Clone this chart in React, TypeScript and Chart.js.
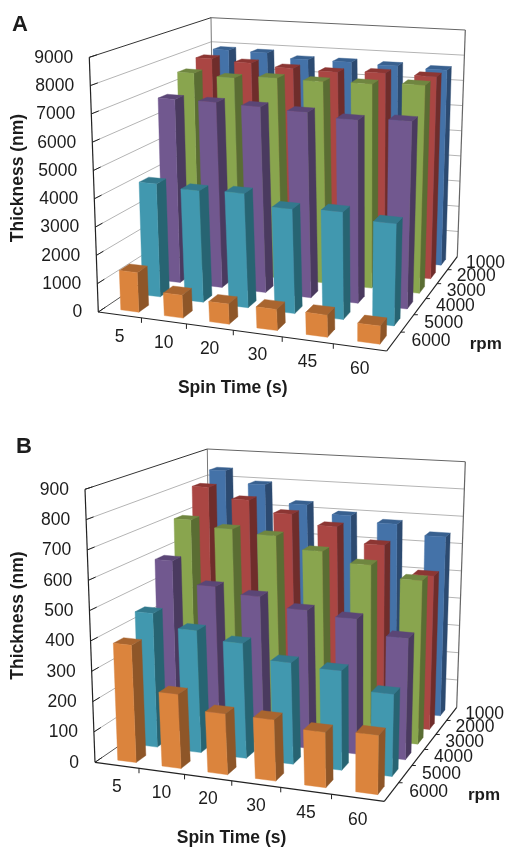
import { useEffect, useRef } from "react";
import { Chart, BarController, registerables } from "chart.js";

const spinTimes = ["5", "10", "20", "30", "45", "60"];
const rpmLabels = ["1000", "2000", "3000", "4000", "5000", "6000"];

const a1000 = [7900, 7880, 7700, 7700, 7660, 7610];
const a2000 = [7825, 7750, 7650, 7610, 7690, 7675];
const a3000 = [7540, 7470, 7580, 7570, 7610, 7700];
const a4000 = [6860, 6870, 6840, 6780, 6650, 6760];
const a5000 = [4110, 4020, 4090, 3710, 3790, 3580];
const a6000 = [1400, 800, 700, 730, 760, 620];

const b1000 = [839, 795, 730, 700, 680, 645];
const b2000 = [802, 765, 724, 690, 636, 540];
const b3000 = [711, 689, 677, 635, 601, 561];
const b4000 = [598, 521, 501, 469, 455, 406];
const b5000 = [453, 410, 383, 335, 326, 268];
const b6000 = [387, 242, 197, 197, 177, 188];

const seriesA = [a1000, a2000, a3000, a4000, a5000, a6000];
const seriesB = [b1000, b2000, b3000, b4000, b5000, b6000];

const frontColors = ["#4472a8", "#aa4643", "#89a54e", "#71588f", "#4198af", "#db843d"];
const topColors = ["#38608f", "#8c3633", "#6f8640", "#5b4676", "#33798d", "#a9652f"];
const sideColors = ["#2c4a70", "#6f2d2b", "#5a6d33", "#4a3a5f", "#276472", "#8e5628"];

const FONT = '"Liberation Sans", Arial, sans-serif';
const DEPTH_FILL = 0.45;
const BAR_SHIFT = 0.015;

type Pt = [number, number];
type Quad = { fl: Pt; fr: Pt; br: Pt; bl: Pt };
type Projector = (u: number, v: number, t: number) => Pt;
type Config = { project: Projector; letter: string; letterAt: Pt; spin: Pt; rpm: Pt; thick: Pt };

const configs = new WeakMap<object, Config>();

function homography(q: Quad) {
  const [x0, y0] = q.fl, [x1, y1] = q.fr, [x2, y2] = q.br, [x3, y3] = q.bl;
  const dx1 = x1 - x2, dx2 = x3 - x2, sx = x0 - x1 + x2 - x3;
  const dy1 = y1 - y2, dy2 = y3 - y2, sy = y0 - y1 + y2 - y3;
  const d = dx1 * dy2 - dx2 * dy1;
  const g = (sx * dy2 - dx2 * sy) / d;
  const h = (dx1 * sy - sx * dy1) / d;
  const a = x1 - x0 + g * x1, b = x3 - x0 + h * x3, c = x0;
  const e = y1 - y0 + g * y1, f = y3 - y0 + h * y3, k = y0;
  return (u: number, v: number): Pt => {
    const w = g * u + h * v + 1;
    return [(a * u + b * v + c) / w, (e * u + f * v + k) / w];
  };
}

function makeProjector(floor: Quad, ceil: Quad): Projector {
  const F = homography(floor), C = homography(ceil);
  return (u, v, t) => {
    const p = F(u, v), q = C(u, v);
    return [p[0] + (q[0] - p[0]) * t, p[1] + (q[1] - p[1]) * t];
  };
}

class Bar3DController extends BarController {
  draw() {
    const chart: any = this.chart;
    const ctx: CanvasRenderingContext2D = chart.ctx;
    const area = chart.chartArea;
    const meta: any = this.getMeta();
    const project = (configs.get(chart.canvas) as Config).project;
    const rows = chart.data.datasets.length;
    const row = meta.index;
    const v0 = (rows - 1 - row + (1 - DEPTH_FILL) / 2) / rows;
    const v1 = v0 + DEPTH_FILL / rows;
    const poly = (pts: Pt[], color: string) => {
      ctx.beginPath();
      pts.forEach((p, i) => (i ? ctx.lineTo(p[0], p[1]) : ctx.moveTo(p[0], p[1])));
      ctx.closePath();
      ctx.fillStyle = color;
      ctx.strokeStyle = color;
      ctx.lineWidth = 0.4;
      ctx.fill();
      ctx.stroke();
    };
    meta.data.forEach((el: any) => {
      const u0 = (el.x - el.width / 2 - area.left) / area.width + BAR_SHIFT;
      const u1 = (el.x + el.width / 2 - area.left) / area.width + BAR_SHIFT;
      const t = (area.bottom - el.y) / area.height;
      poly([project(u1, v0, 0), project(u1, v1, 0), project(u1, v1, t), project(u1, v0, t)], sideColors[row]);
      poly([project(u0, v0, t), project(u1, v0, t), project(u1, v1, t), project(u0, v1, t)], topColors[row]);
      poly([project(u0, v0, 0), project(u1, v0, 0), project(u1, v0, t), project(u0, v0, t)], frontColors[row]);
    });
  }
}
(Bar3DController as any).id = "bar3d";
(Bar3DController as any).defaults = BarController.defaults;
(Bar3DController as any).overrides = BarController.overrides;

Chart.register(...registerables, Bar3DController as any);

const line = (ctx: CanvasRenderingContext2D, a: Pt, b: Pt, color: string, w = 1) => {
  ctx.beginPath();
  ctx.moveTo(a[0], a[1]);
  ctx.lineTo(b[0], b[1]);
  ctx.strokeStyle = color;
  ctx.lineWidth = w;
  ctx.stroke();
};

const framePlugin = {
  id: "frame",
  beforeDatasetsDraw(chart: any) {
    const ctx = chart.ctx;
    const P = (configs.get(chart.canvas) as Config).project;
    const y = chart.scales.y;
    const area = chart.chartArea;
    ctx.save();
    y.ticks.forEach((tk: any) => {
      const t = (area.bottom - y.getPixelForValue(tk.value)) / area.height;
      if (t > 0 && t < 0.999) {
        line(ctx, P(0, 0, t), P(0, 1, t), "#b4b4b4");
        line(ctx, P(0, 1, t), P(1, 1, t), "#b4b4b4");
      }
    });
    line(ctx, P(0, 1, 0), P(0, 1, 1), "#777");
    line(ctx, P(1, 1, 0), P(1, 1, 1), "#666", 1.2);
    line(ctx, P(0, 0, 1), P(0, 1, 1), "#333");
    line(ctx, P(0, 1, 1), P(1, 1, 1), "#666");
    line(ctx, P(0, 0, 0), P(0, 1, 0), "#555");
    ctx.restore();
  },
  afterDatasetsDraw(chart: any) {
    const ctx: CanvasRenderingContext2D = chart.ctx;
    const o = configs.get(chart.canvas) as Config;
    const P = o.project;
    const y = chart.scales.y;
    const area = chart.chartArea;
    ctx.save();
    line(ctx, P(0, 0, 0), P(0, 0, 1), "#222", 1.2);
    line(ctx, P(0, 0, 0), P(1, 0, 0), "#222", 1.2);
    line(ctx, P(1, 0, 0), P(1, 1, 0), "#222", 1.2);
    ctx.fillStyle = "#1c1c1c";
    ctx.font = `17.5px ${FONT}`;
    ctx.textBaseline = "middle";
    ctx.textAlign = "right";
    y.ticks.forEach((tk: any) => {
      const t = (area.bottom - y.getPixelForValue(tk.value)) / area.height;
      const a = P(0, 0, t);
      const c = P(0, 0.05, t);
      line(ctx, a, c, "#222");
      ctx.fillText(String(tk.value), a[0] - 16, a[1] + 0.5);
    });
    const n = spinTimes.length;
    ctx.textAlign = "center";
    spinTimes.forEach((s, i) => {
      const p = P((i + 0.5) / n, 0, 0);
      ctx.fillText(s, p[0], p[1] + 22);
    });
    for (let i = 1; i < n; i++) {
      const p = P(i / n, 0, 0);
      line(ctx, p, [p[0], p[1] + 5], "#222");
    }
    ctx.textAlign = "left";
    rpmLabels.forEach((s, i) => {
      const v = 1 - (i + 0.5) / n;
      const p = P(1, v, 0);
      ctx.fillText(s, p[0] + 18 - 5 * v, p[1]);
    });
    for (let i = 1; i < n; i++) {
      const p = P(1, i / n, 0);
      line(ctx, p, [p[0] + 4, p[1]], "#222");
    }
    ctx.font = `bold 17.5px ${FONT}`;
    ctx.textAlign = "center";
    ctx.fillText("Spin Time (s)", o.spin[0], o.spin[1]);
    ctx.font = `bold 17px ${FONT}`;
    ctx.fillText("rpm", o.rpm[0], o.rpm[1]);
    ctx.font = `bold 22px ${FONT}`;
    ctx.fillText(o.letter, o.letterAt[0], o.letterAt[1]);
    ctx.font = `bold 17.5px ${FONT}`;
    ctx.translate(o.thick[0], o.thick[1]);
    ctx.rotate(-Math.PI / 2);
    ctx.fillText("Thickness (nm)", 0, 0);
    ctx.restore();
  },
};

type PanelProps = {
  top: number;
  data: number[][];
  max: number;
  step: number;
  floor: Quad;
  ceil: Quad;
  letter: string;
  letterAt: Pt;
  spin: Pt;
  rpm: Pt;
  thick: Pt;
};

function Panel(props: PanelProps) {
  const ref = useRef<HTMLCanvasElement>(null);
  useEffect(() => {
    const { data, max, step, floor, ceil, letter, letterAt, spin, rpm, thick } = props;
    const canvas = ref.current as HTMLCanvasElement;
    configs.set(canvas, { project: makeProjector(floor, ceil), letter, letterAt, spin, rpm, thick });
    const chart = new Chart(canvas, {
      type: "bar3d" as any,
      data: {
        labels: spinTimes,
        datasets: data.map((values, i) => ({
          label: rpmLabels[i],
          data: values,
          order: data.length - i,
          grouped: false,
          categoryPercentage: 1,
          barPercentage: 0.42,
        })),
      },
      options: {
        responsive: false,
        animation: false,
        layout: { padding: 0 },
        scales: {
          x: { type: "category", display: false, offset: true },
          y: { type: "linear", display: false, min: 0, max, ticks: { stepSize: step } },
        },
        plugins: {
          legend: { display: false },
          tooltip: { enabled: false },
        },
      },
      plugins: [framePlugin as any],
    });
    return () => chart.destroy();
  }, []);
  return (
    <canvas
      ref={ref}
      width={505}
      height={424}
      style={{ position: "absolute", left: 0, top: props.top, width: 505, height: 424, display: "block" }}
    />
  );
}

export default function App() {
  return (
    <div style={{ position: "absolute", left: 0, top: 0, width: 505, height: 848, overflow: "hidden", background: "#fff" }}>
      <Panel
        top={0}
        data={seriesA}
        max={9000}
        step={1000}
        floor={{ fl: [98.3, 312], fr: [386.7, 351], br: [457.3, 256.7], bl: [214, 234] }}
        ceil={{ fl: [89.3, 57.3], fr: [392.5, 85], br: [465.3, 30], bl: [211, 17.7] }}
        letter="A"
        letterAt={[20, 25]}
        spin={[232.7, 388]}
        rpm={[485.7, 344]}
        thick={[18.5, 178]}
      />
      <Panel
        top={424}
        data={seriesB}
        max={900}
        step={100}
        floor={{ fl: [95, 338.3], fr: [384.3, 377.3], br: [456.7, 283.3], bl: [210.5, 259] }}
        ceil={{ fl: [85, 65.3], fr: [390, 92], br: [465.3, 37.7], bl: [207.3, 25] }}
        letter="B"
        letterAt={[24, 23]}
        spin={[231.5, 414]}
        rpm={[484, 371]}
        thick={[18.5, 191.5]}
      />
    </div>
  );
}
